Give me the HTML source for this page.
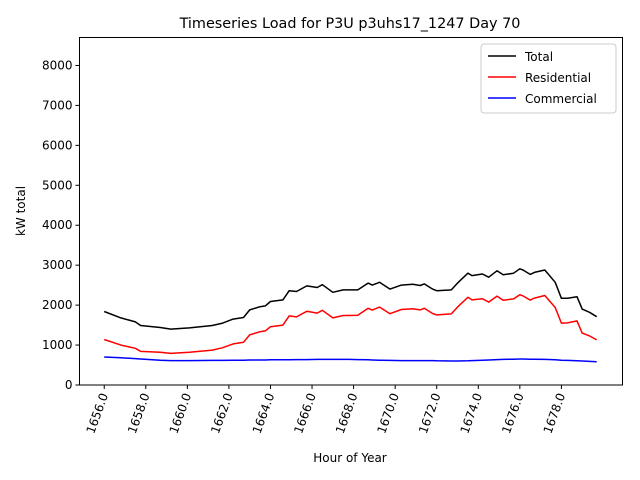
<!DOCTYPE html>
<html><head><meta charset="utf-8"><style>
body{margin:0;background:#fff}
svg{display:block;font-family:"DejaVu Sans","Liberation Sans",sans-serif}
</style></head><body>
<svg id="chart" width="640" height="480" viewBox="0 0 640 480">
<rect width="640" height="480" fill="#fff"/>
<text x="350" y="28" font-size="14.4" text-anchor="middle">Timeseries Load for P3U p3uhs17_1247  Day 70</text>
<text transform="translate(25,211) rotate(-90)" font-size="12" text-anchor="middle">kW total</text>
<text x="350" y="462" font-size="12" text-anchor="middle">Hour of Year</text>
<g id="axes"></g>
<g id="series"></g>
<rect x="79.5" y="37.5" width="543" height="347.5" fill="none" stroke="#000" stroke-width="1"/>
<g>
<rect x="481" y="44" width="135" height="69" fill="#fff" stroke="#ccc" rx="3"/>
<line x1="488" y1="56" x2="516" y2="56" stroke="#000" stroke-width="1.5"/>
<text x="525" y="61" font-size="12">Total</text>
<line x1="488" y1="77" x2="516" y2="77" stroke="#f00" stroke-width="1.5"/>
<text x="525" y="82" font-size="12">Residential</text>
<line x1="488" y1="98" x2="516" y2="98" stroke="#00f" stroke-width="1.5"/>
<text x="525" y="103" font-size="12">Commercial</text>
</g>
</svg>
<script>
const hours=[1656.0,1656.8,1657.5,1657.75,1658.7,1659.2,1660.1,1661.2,1661.7,1662.2,1662.7,1663.0,1663.5,1663.75,1664.0,1664.6,1664.9,1665.25,1665.75,1666.25,1666.5,1667.0,1667.5,1667.8,1668.2,1668.7,1668.9,1669.25,1669.75,1670.3,1670.85,1671.2,1671.4,1671.8,1672.0,1672.7,1673.0,1673.5,1673.7,1674.2,1674.5,1674.9,1675.2,1675.7,1676.0,1676.15,1676.5,1676.7,1677.2,1677.7,1678.0,1678.3,1678.75,1679.0,1679.35,1679.7];
const totalLoad=[1840,1680,1580,1490,1440,1400,1430,1490,1550,1650,1690,1880,1960,1980,2090,2130,2360,2340,2480,2440,2510,2320,2380,2380,2380,2550,2500,2570,2400,2500,2520,2490,2530,2400,2360,2380,2550,2800,2740,2780,2700,2860,2760,2800,2910,2880,2770,2820,2880,2570,2170,2170,2210,1900,1820,1710];
const residentialLoad=[1140,1000,920,840,820,790,820,875,935,1030,1070,1255,1335,1355,1460,1500,1730,1705,1845,1800,1870,1680,1740,1740,1745,1920,1875,1950,1785,1890,1910,1880,1920,1790,1755,1780,1950,2195,2130,2160,2075,2225,2120,2155,2260,2230,2125,2175,2240,1940,1550,1555,1605,1300,1230,1130];
const commercialLoad=[700,680,660,650,620,610,610,615,615,620,620,625,625,625,630,630,630,635,635,640,640,640,640,640,635,630,625,620,615,610,610,610,610,610,605,600,600,605,610,620,625,635,640,645,650,650,645,645,640,630,620,615,605,600,590,580];
const xTicks=[1656,1658,1660,1662,1664,1666,1668,1670,1672,1674,1676,1678];
const yTicks=[0,1000,2000,3000,4000,5000,6000,7000,8000];

const NS="http://www.w3.org/2000/svg";
const X0=79.5,X1=622.5,Y0=385,Y1=37.5;
const xMin=1654.81,xMax=1680.94,yMin=0,yMax=8700;
function xs(v){return X0+(v-xMin)/(xMax-xMin)*(X1-X0);}
function ys(v){return Y0-(v-yMin)/(yMax-yMin)*(Y0-Y1);}
function mk(tag,attrs){const e=document.createElementNS(NS,tag);for(const k in attrs)e.setAttribute(k,attrs[k]);return e;}
const axes=document.getElementById('axes');
xTicks.forEach(t=>{
  const x=xs(t);
  const l=mk('line',{x1:x,y1:Y0,x2:x,y2:Y0+4,stroke:'#000'});
  
  
  axes.appendChild(l);
  const tx=mk('text',{x:0,y:0,'font-size':12,'text-anchor':'end',transform:`translate(${x+4},${Y0+10}) rotate(-70)`});
  tx.textContent=t.toFixed(1);
  
  
  axes.appendChild(tx);
});
yTicks.forEach(t=>{
  const y=ys(t);
  const l=mk('line',{x1:X0-4,y1:y,x2:X0,y2:y,stroke:'#000'});
  
  
  axes.appendChild(l);
  const tx=mk('text',{x:X0-7,y:y+4,'font-size':12,'text-anchor':'end'});
  tx.textContent=t;
  
  
  axes.appendChild(tx);
});
const series=document.getElementById('series');
function line(vals,color,name){
  const d=vals.map((v,i)=>(i?'L':'M')+xs(hours[i]).toFixed(1)+','+ys(v).toFixed(1)).join(' ');
  const p=mk('path',{d:d,fill:'none',stroke:color,'stroke-width':1.5,'stroke-linejoin':'round'});
  
  
  series.appendChild(p);
}
line(commercialLoad,'#0000ff','commercial-line');
line(residentialLoad,'#ff0000','residential-line');
line(totalLoad,'#000000','total-line');
</script>
</body></html>
